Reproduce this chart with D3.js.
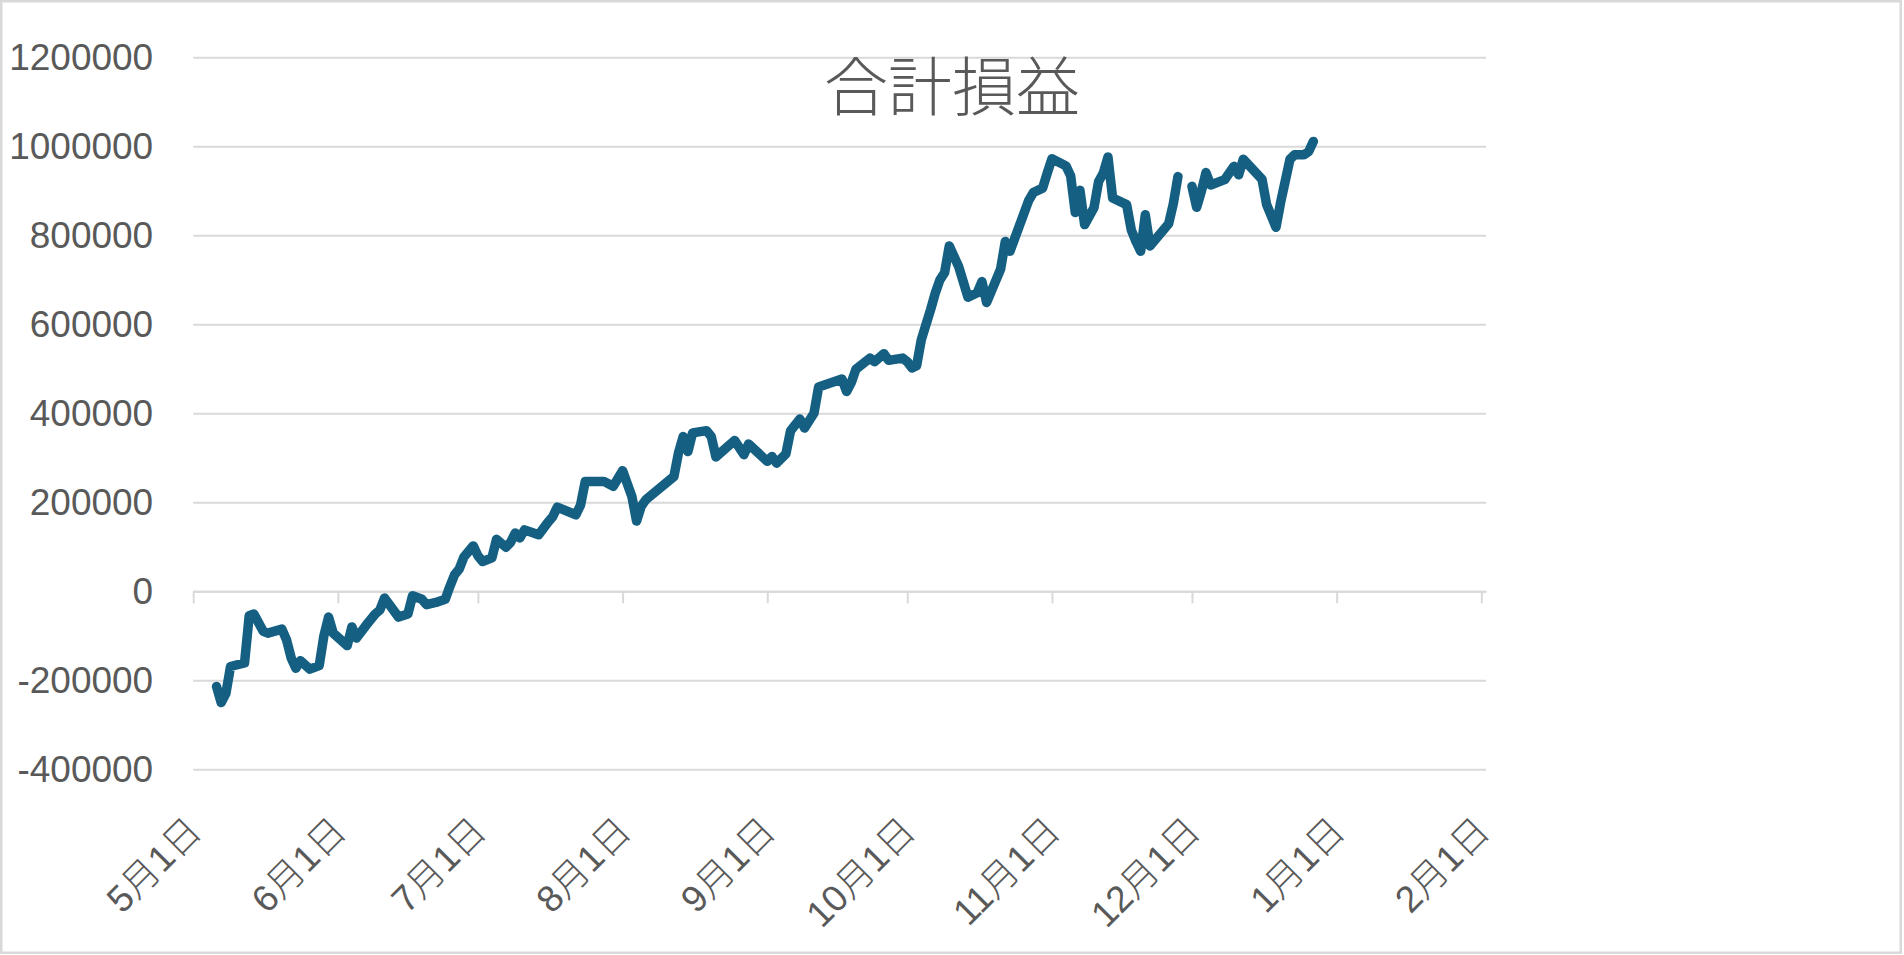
<!DOCTYPE html>
<html>
<head>
<meta charset="utf-8">
<script src="https://cdn.jsdelivr.net/npm/d3@7"></script>
<style>
  body { margin: 0; background: #fff; }
  svg { display: block; }
</style>
</head>
<body>
<svg id="chart"></svg>
<script>
// 合計損益 (cumulative P&L) per trading day
const dates = [
  "2024-05-06","2024-05-07","2024-05-08","2024-05-09","2024-05-12","2024-05-13","2024-05-14","2024-05-16","2024-05-17","2024-05-20",
  "2024-05-21","2024-05-22","2024-05-23","2024-05-24","2024-05-26","2024-05-28","2024-05-29","2024-05-30","2024-05-31","2024-06-03",
  "2024-06-04","2024-06-05","2024-06-07","2024-06-09","2024-06-10","2024-06-11","2024-06-14","2024-06-16","2024-06-17","2024-06-19",
  "2024-06-20","2024-06-22","2024-06-24","2024-06-25","2024-06-26","2024-06-27","2024-06-28","2024-06-30","2024-07-01","2024-07-02",
  "2024-07-04","2024-07-05","2024-07-07","2024-07-08","2024-07-09","2024-07-10","2024-07-11","2024-07-14","2024-07-16","2024-07-17",
  "2024-07-18","2024-07-22","2024-07-23","2024-07-24","2024-07-28","2024-07-30","2024-08-01","2024-08-03","2024-08-04","2024-08-05",
  "2024-08-06","2024-08-12","2024-08-13","2024-08-14","2024-08-15","2024-08-16","2024-08-19","2024-08-20","2024-08-21","2024-08-25",
  "2024-08-27","2024-08-28","2024-09-01","2024-09-02","2024-09-03","2024-09-05","2024-09-06","2024-09-08","2024-09-09","2024-09-11",
  "2024-09-12","2024-09-17","2024-09-18","2024-09-19","2024-09-20","2024-09-23","2024-09-24","2024-09-26","2024-09-27","2024-09-30",
  "2024-10-01","2024-10-02","2024-10-03","2024-10-04","2024-10-06","2024-10-07","2024-10-08","2024-10-09","2024-10-10","2024-10-12",
  "2024-10-14","2024-10-16","2024-10-17","2024-10-18","2024-10-21","2024-10-22","2024-10-23","2024-10-27","2024-10-28","2024-10-30",
  "2024-10-31","2024-11-01","2024-11-04","2024-11-05","2024-11-06","2024-11-07","2024-11-08","2024-11-10","2024-11-11","2024-11-12",
  "2024-11-13","2024-11-14","2024-11-17","2024-11-18","2024-11-19","2024-11-20","2024-11-21","2024-11-22","2024-11-26","2024-11-27",
  "2024-11-28","2024-11-29","2024-12-01","2024-12-02","2024-12-03","2024-12-04","2024-12-05","2024-12-08","2024-12-10","2024-12-11",
  "2024-12-12","2024-12-16","2024-12-17","2024-12-19","2024-12-20","2024-12-22","2024-12-23","2024-12-25","2024-12-26","2024-12-27"
];
const pnl = [
  -214000,-250000,-230000,-169000,-161000,-55000,-51000,-90000,-94000,-85000,
  -109000,-150000,-173000,-156000,-175000,-167000,-100000,-58000,-94000,-122000,
  -80000,-105000,-77000,-51000,-42000,-15000,-58000,-51000,-10000,-18000,
  -30000,-25000,-18000,11000,37000,50000,77000,102000,80000,67000,
  75000,117000,99000,110000,131000,120000,138000,127000,155000,167000,
  189000,172000,194000,247000,247000,236000,271000,213000,158000,191000,
  206000,258000,312000,348000,314000,356000,361000,348000,302000,339000,
  307000,331000,292000,303000,288000,309000,361000,387000,367000,400000,
  459000,477000,449000,469000,499000,524000,516000,534000,519000,524000,
  516000,502000,507000,565000,633000,670000,700000,716000,776000,730000,
  661000,671000,696000,649000,724000,786000,764000,878000,896000,906000,
  940000,972000,956000,934000,851000,901000,824000,862000,921000,940000,
  976000,884000,869000,812000,786000,764000,846000,776000,826000,871000,
  932000,null,910000,863000,898000,941000,913000,925000,955000,936000,
  971000,926000,869000,818000,874000,971000,981000,981000,988000,1011000
];
const yTicks = [-400000, -200000, 0, 200000, 400000, 600000, 800000, 1000000, 1200000];
const monthTicks = ["2024-05-01","2024-06-01","2024-07-01","2024-08-01","2024-09-01","2024-10-01","2024-11-01","2024-12-01","2025-01-01","2025-02-01"];
const chartTitle = "合計損益";

const W = 1904, H = 955;
const margin = {top: 57.3, right: 418, bottom: 185.7, left: 193.2};
const plotW = W - margin.left - margin.right;
const plotH = H - margin.top - margin.bottom;

const parse = d3.timeParse("%Y-%m-%d");
const data = dates.map((d, i) => ({date: parse(d), v: pnl[i]}));

const svg = d3.select("#chart").attr("width", W).attr("height", H);

// outer chart border
svg.append("rect")
  .attr("x", 1.25).attr("y", 1.25)
  .attr("width", W - 4.5).attr("height", H - 3.5)
  .attr("fill", "#fff").attr("stroke", "#d9d9d9").attr("stroke-width", 2.5);

const g = svg.append("g").attr("transform", `translate(${margin.left},${margin.top})`);

const x = d3.scaleTime()
  .domain([parse("2024-05-01"), parse("2025-02-02")])
  .range([0, plotW]);
const y = d3.scaleLinear()
  .domain([-400000, 1200000])
  .range([plotH, 0]);

// y axis with gridlines
const yAxisG = g.append("g")
  .call(d3.axisLeft(y).tickValues(yTicks).tickSize(-plotW).tickPadding(40).tickFormat(d => String(d)));
yAxisG.select(".domain").remove();
yAxisG.selectAll("line").attr("stroke", "#d9d9d9").attr("stroke-width", 2);
yAxisG.selectAll("text")
  .attr("fill", "#595959")
  .style("font-family", "'Liberation Sans', Arial, sans-serif")
  .style("font-size", "37px");

// x axis sits on the zero line, labels at the bottom
const y0 = y(0);
const labelY = plotH + 64;
const xAxisG = g.append("g")
  .attr("transform", `translate(0,${y0})`)
  .call(d3.axisBottom(x).tickValues(monthTicks.map(parse)).tickSize(12).tickSizeOuter(0)
    .tickFormat(d => `${d.getMonth() + 1}月${d.getDate()}日`));
xAxisG.select(".domain").attr("stroke", "#d9d9d9").attr("stroke-width", 2);
xAxisG.selectAll("line").attr("stroke", "#d9d9d9").attr("stroke-width", 2);
xAxisG.selectAll("text")
  .attr("fill", "#595959")
  .attr("x", 0).attr("y", 0).attr("dy", 0)
  .attr("text-anchor", "end")
  .attr("transform", `translate(10,${labelY - y0}) rotate(-45)`)
  .style("font-family", "'Liberation Sans', 'Noto Sans CJK JP', sans-serif")
  .style("font-weight", 300)
  .style("font-size", "37px");

// the series
const line = d3.line()
  .defined(d => d.v !== null)
  .x(d => x(d.date))
  .y(d => y(d.v));

g.append("path")
  .datum(data)
  .attr("fill", "none")
  .attr("stroke", "#156082")
  .attr("stroke-width", 9.5)
  .attr("stroke-linejoin", "round")
  .attr("stroke-linecap", "round")
  .attr("d", line);

// title
svg.append("text")
  .attr("x", 952).attr("y", 110)
  .attr("text-anchor", "middle")
  .attr("fill", "#595959")
  .style("font-family", "'Noto Sans CJK JP', sans-serif")
  .style("font-weight", 300)
  .style("font-size", "64px")
  .text(chartTitle);
</script>
</body>
</html>
